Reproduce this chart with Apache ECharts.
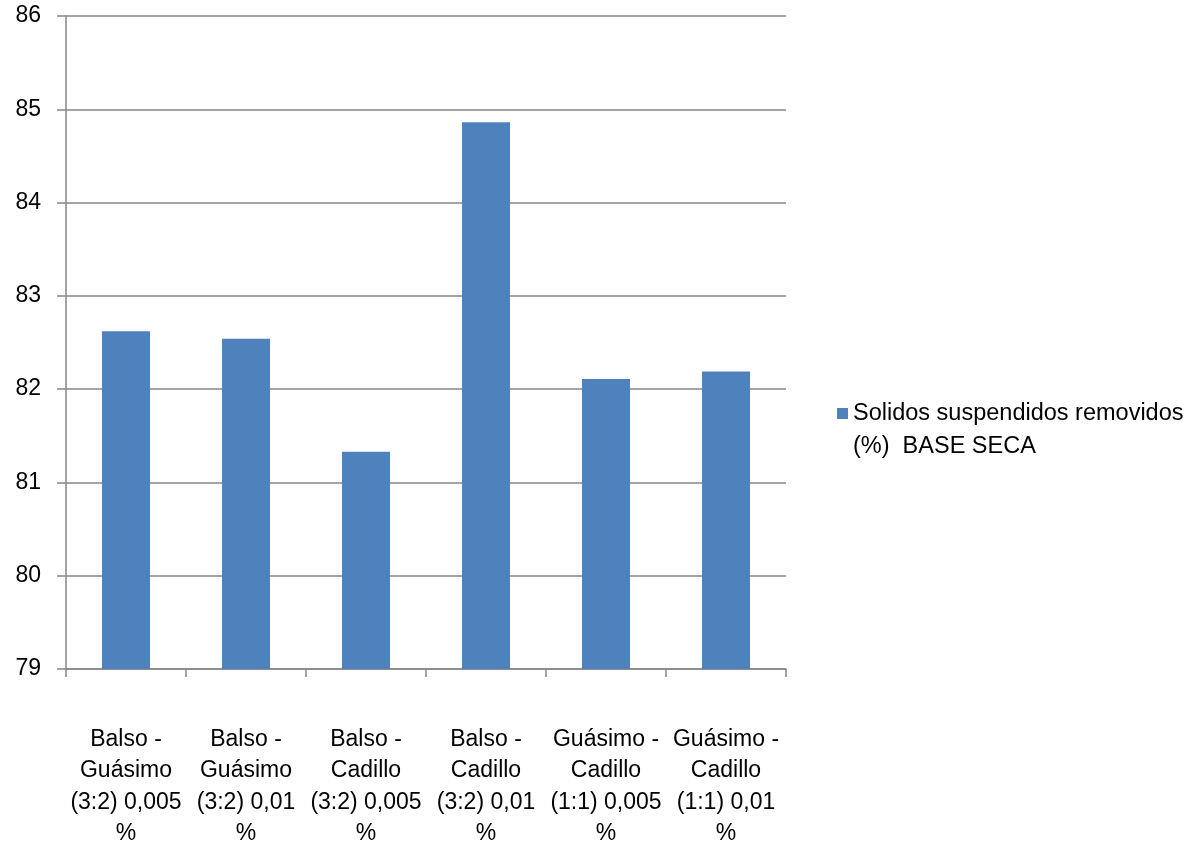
<!DOCTYPE html>
<html>
<head>
<meta charset="utf-8">
<script src="https://cdn.jsdelivr.net/npm/echarts@6/dist/echarts.min.js"></script>
<style>
html,body{margin:0;padding:0;background:#fff;}
#chart{width:1191px;height:844px;}
</style>
</head>
<body>
<div id="chart"></div>
<script>
const categories = [
  "Balso -\nGuásimo\n(3:2) 0,005\n%",
  "Balso -\nGuásimo\n(3:2) 0,01\n%",
  "Balso -\nCadillo\n(3:2) 0,005\n%",
  "Balso -\nCadillo\n(3:2) 0,01\n%",
  "Guásimo -\nCadillo\n(1:1) 0,005\n%",
  "Guásimo -\nCadillo\n(1:1) 0,01\n%"
];
const seriesName = "Solidos suspendidos removidos\n(%)  BASE SECA";
const values = [82.62, 82.54, 81.33, 84.86, 82.11, 82.19];
const yMin = 79, yMax = 86, yStep = 1;

const FONT = '"Liberation Sans", Arial, sans-serif';
const GRAY = '#868686';

const chart = echarts.init(document.getElementById('chart'));
chart.setOption({
  animation: false,
  backgroundColor: '#ffffff',
  grid: { left: 66, right: 405, top: 16, bottom: 175, containLabel: false, outerBoundsMode: 'none' },
  legend: {
    left: 832, top: 359, orient: 'vertical',
    itemWidth: 11, itemHeight: 11,
    icon: 'rect',
    formatter: function (name) { return '\n' + name; },
    textStyle: { fontFamily: FONT, fontSize: 23.5, color: '#000', lineHeight: 33 },
    data: [seriesName]
  },
  xAxis: {
    type: 'category',
    data: categories,
    axisLine: { show: true, lineStyle: { color: GRAY, width: 1.5 } },
    axisTick: { show: true, length: 8, lineStyle: { color: GRAY, width: 1.5 } },
    axisLabel: {
      interval: 0, margin: 55,
      fontFamily: FONT,
      fontSize: 23, color: '#000', lineHeight: 31.3, align: 'center'
    },
    splitLine: { show: false }
  },
  yAxis: {
    type: 'value', min: yMin, max: yMax, interval: yStep,
    axisLine: { show: true, lineStyle: { color: GRAY, width: 1.5 } },
    axisTick: { show: true, length: 9, lineStyle: { color: GRAY, width: 1.5 } },
    axisLabel: { margin: 25, fontFamily: FONT, fontSize: 23, color: '#000' },
    splitLine: { show: true, lineStyle: { color: GRAY, width: 1.5 } }
  },
  series: [{
    name: seriesName,
    type: 'bar',
    data: values,
    barWidth: '40%',
    itemStyle: { color: '#4F81BD' }
  }]
});
</script>
</body>
</html>
